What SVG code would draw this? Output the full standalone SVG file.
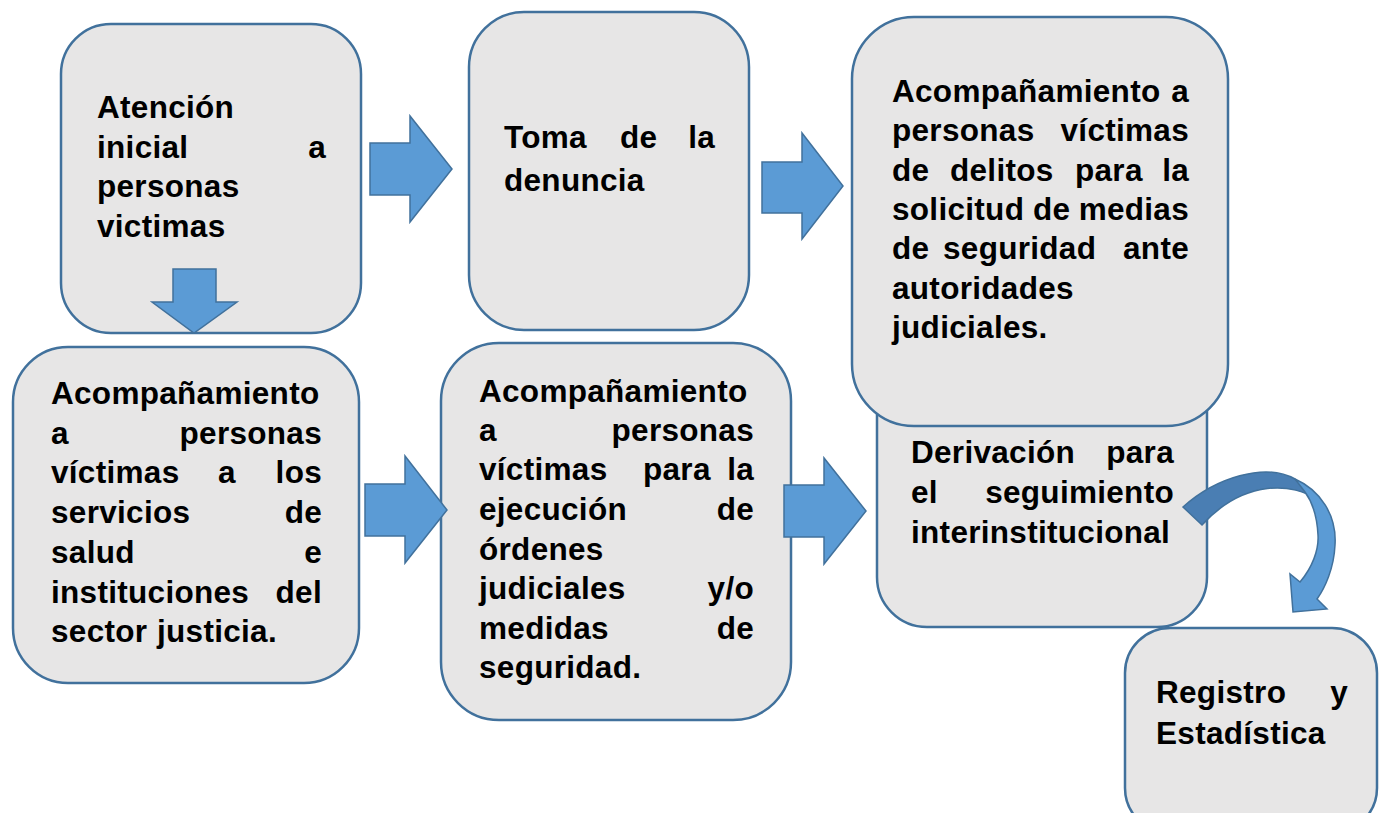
<svg xmlns="http://www.w3.org/2000/svg" width="1384" height="813" viewBox="0 0 1384 813">
<style>
.box{fill:#e7e6e6;stroke:#41719c;stroke-width:2.5}
.arr{fill:#5b9bd5;stroke:#41719c;stroke-width:1.5;stroke-linejoin:miter}
.dk{fill:#4a7eb3;stroke:#41719c;stroke-width:1.5}
.t{font-family:"Liberation Sans",Arial,sans-serif;font-weight:bold;font-size:31.5px;letter-spacing:0.3px;fill:#000}
.e{text-anchor:end}
</style>
<rect width="1384" height="813" fill="#ffffff"/>
<g id="node-derivacion">
<rect class="box" x="877" y="360" width="330" height="267" rx="50" ry="50"/>
<text class="t" x="911" y="463">Derivación</text><text class="t e" x="1174" y="463">para</text>
<text class="t" x="911" y="503">el</text><text class="t e" x="1174" y="503">seguimiento</text>
<text class="t" x="911" y="543">interinstitucional</text>
</g>
<g id="node-atencion">
<rect class="box" x="61" y="24" width="300" height="309" rx="50" ry="50"/>
<text class="t" x="97" y="118">Atención</text>
<text class="t" x="97" y="158">inicial</text><text class="t e" x="326" y="158">a</text>
<text class="t" x="97" y="197">personas</text>
<text class="t" x="97" y="237">victimas</text>
</g>
<g id="node-denuncia">
<rect class="box" x="469" y="12" width="280" height="318" rx="55" ry="55"/>
<text class="t" x="504" y="148">Toma</text><text class="t" x="620" y="148">de</text><text class="t e" x="715" y="148">la</text>
<text class="t" x="504" y="191">denuncia</text>
</g>
<g id="node-medidas">
<rect class="box" x="852" y="17" width="376" height="409" rx="62" ry="62"/>
<text class="t" x="892" y="102">Acompañamiento</text><text class="t e" x="1189" y="102">a</text>
<text class="t" x="892" y="141">personas</text><text class="t e" x="1189" y="141">víctimas</text>
<text class="t" x="892" y="181">de</text><text class="t" x="950" y="181">delitos</text><text class="t" x="1075" y="181">para</text><text class="t e" x="1189" y="181">la</text>
<text class="t" x="892" y="220">solicitud</text><text class="t" x="1033" y="220">de</text><text class="t e" x="1189" y="220">medias</text>
<text class="t" x="892" y="259">de</text><text class="t" x="943" y="259">seguridad</text><text class="t e" x="1189" y="259">ante</text>
<text class="t" x="892" y="299">autoridades</text>
<text class="t" x="892" y="338">judiciales.</text>
</g>
<g id="node-salud">
<rect class="box" x="13" y="347" width="346" height="336" rx="55" ry="55"/>
<text class="t" x="51" y="404">Acompañamiento</text>
<text class="t" x="51" y="444">a</text><text class="t e" x="322" y="444">personas</text>
<text class="t" x="51" y="483">víctimas</text><text class="t" x="218" y="483">a</text><text class="t e" x="322" y="483">los</text>
<text class="t" x="51" y="523">servicios</text><text class="t e" x="322" y="523">de</text>
<text class="t" x="51" y="563">salud</text><text class="t e" x="322" y="563">e</text>
<text class="t" x="51" y="603">instituciones</text><text class="t e" x="322" y="603">del</text>
<text class="t" x="51" y="642">sector <tspan x="157">justicia.</tspan></text>
</g>
<g id="node-ordenes">
<rect class="box" x="441" y="343" width="350" height="377" rx="58" ry="58"/>
<text class="t" x="479" y="402">Acompañamiento</text>
<text class="t" x="479" y="441">a</text><text class="t e" x="754" y="441">personas</text>
<text class="t" x="479" y="480">víctimas</text><text class="t" x="643" y="480">para</text><text class="t e" x="754" y="480">la</text>
<text class="t" x="479" y="520">ejecución</text><text class="t e" x="754" y="520">de</text>
<text class="t" x="479" y="560">órdenes</text>
<text class="t" x="479" y="599">judiciales</text><text class="t e" x="754" y="599">y/o</text>
<text class="t" x="479" y="639">medidas</text><text class="t e" x="754" y="639">de</text>
<text class="t" x="479" y="678">seguridad.</text>
</g>
<g id="node-registro">
<rect class="box" x="1125" y="628" width="252" height="205" rx="45" ry="45"/>
<text class="t" x="1156" y="703">Registro</text><text class="t e" x="1348" y="703">y</text>
<text class="t" x="1156" y="744">Estadística</text>
</g>
<g id="connectors">
<polygon class="arr" points="370,143 410,143 410,116 452,169 410,222 410,195 370,195"/>
<polygon class="arr" points="762,162 802,162 802,133 843,186 802,239 802,213 762,213"/>
<polygon class="arr" points="365,484 405,484 405,456 447,510 405,563 405,536 365,536"/>
<polygon class="arr" points="784,485 824,485 824,458 866,511 824,564 824,537 784,537"/>
<polygon class="arr" points="173,269 216,269 216,302 237,302 194,333 152,302 173,302"/>
<path class="dk" d="M1183,507 C1215,478 1265,462 1295,479 L1317,500 C1295,483 1245,478 1202,525 Z"/>
<path class="arr" d="M1295,479 C1320,490 1337,515 1335,545 C1334,568 1325,588 1317,599 L1327,609 L1293,612 L1290,574 L1300,582 C1312,568 1319,550 1318,535 C1317,515 1313,503 1305,492 Z"/>
</g>
</svg>
